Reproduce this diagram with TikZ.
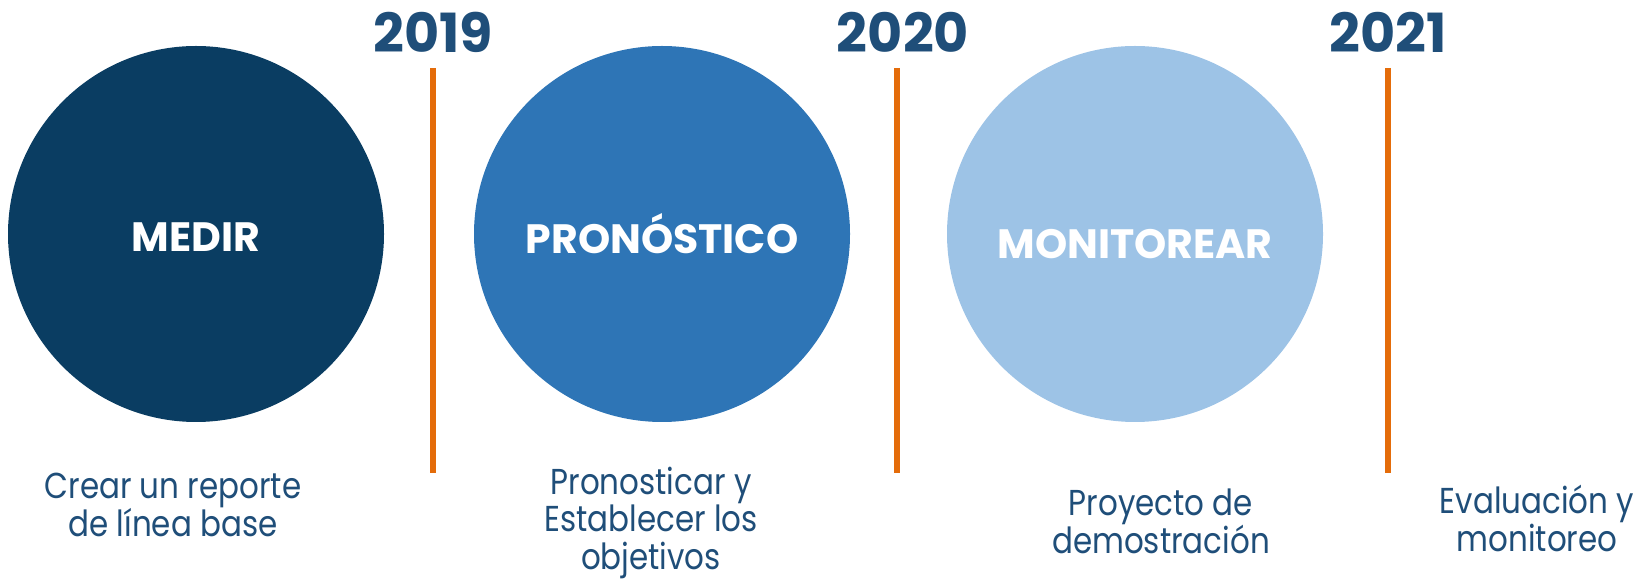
\documentclass[tikz,border=0pt]{standalone}
\usepackage{fontspec}
\setmainfont{Poppins}
\newfontfamily\descfont[FakeStretch=0.86]{Poppins}
\usetikzlibrary{positioning}
\definecolor{medirblue}{HTML}{0A3D62}
\definecolor{pronblue}{HTML}{2E75B6}
\definecolor{monblue}{HTML}{9DC3E6}
\definecolor{textblue}{HTML}{1F4E79}
\definecolor{lineorange}{HTML}{E46C0A}
\tikzstyle{phase} = [circle, minimum size=188pt, inner sep=0pt, text=white, text depth=0pt, font=\fontsize{20.5}{24}\selectfont\bfseries]
\tikzstyle{year} = [anchor=base, inner sep=0pt, text=textblue, font=\fontsize{27}{30}\selectfont\bfseries]
\tikzstyle{desc} = [anchor=north, align=center, inner sep=0pt, text=textblue, font=\descfont\fontsize{18}{19}\selectfont]
\tikzstyle{divider} = [line width=3pt, draw=lineorange]

\begin{document}
\begin{tikzpicture}[x=0.5pt,y=-0.5pt]
    \useasboundingbox (0,0) rectangle (1641,581);
    % circles
    \node[phase, fill=medirblue, text height=18pt] (medir) at (196,234) {MEDIR};
    \node[phase, fill=pronblue, text height=20pt] (pronostico) at (662,234) {PRONÓSTICO};
    \node[phase, fill=monblue, text height=25pt] (monitorear) at (1135,234) {MONITOREAR};
    % years and dividers
    \node[year] (y2019) at (433,53) {2019};
    \node[year] (y2020) at (903,53) {2020};
    \node[year] (y2021) at (1388,53) {2021};
    \draw[divider] (433,68) -- (433,473);
    \draw[divider] (897,68) -- (897,473);
    \draw[divider] (1388,68) -- (1388,473);
    % descriptions
    \node[desc] (crear) at (173,473) {Crear un reporte\\de línea base};
    \node[desc, font=\descfont\fontsize{18}{18.6}\selectfont] (pronosticar) at (651,467) {Pronosticar y\\Establecer los\\objetivos};
    \node[desc] (proyecto) at (1161,488) {Proyecto de\\demostración};
    \node[desc] (evaluacion) at (1537,485) {Evaluación y\\monitoreo};
\end{tikzpicture}
\end{document}
